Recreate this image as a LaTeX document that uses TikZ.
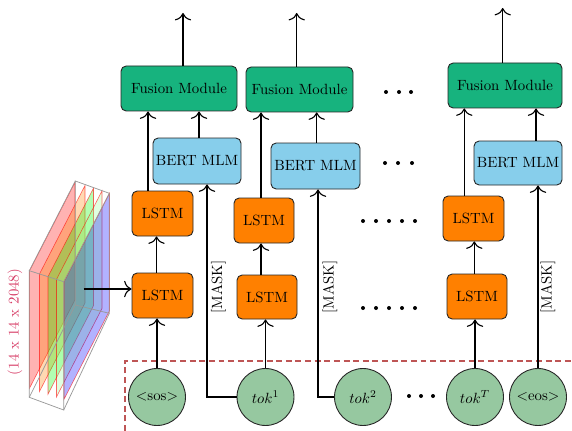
\documentclass[tikz,border=0pt]{standalone}
\usetikzlibrary{calc,arrows.meta}
\definecolor{fusc}{RGB}{23,179,126}
\definecolor{bertc}{RGB}{135,206,235}
\definecolor{lstmc}{RGB}{255,128,0}
\definecolor{tokc}{RGB}{150,200,160}
\definecolor{dimc}{RGB}{214,58,100}
\definecolor{dashc}{RGB}{190,85,85}
\begin{document}
\begin{tikzpicture}[x=0.6757pt,y=-0.6757pt,
  blk/.style={draw=black!85, line width=0.6pt, rounded corners=3.5pt, inner sep=0pt},
  fus/.style={blk, fill=fusc},
  bert/.style={blk, fill=bertc},
  lstm/.style={blk, fill=lstmc},
  tok/.style={circle, draw=black!85, line width=0.6pt, fill=tokc, minimum size=38.5pt, inner sep=0pt},
  sz/.style 2 args={minimum width=#1*0.6757pt, minimum height=#2*0.6757pt},
  conn/.style={-{Computer Modern Rightarrow[length=5pt,width=11pt]}, line width=0.75pt},
  masklbl/.style={rotate=90, inner sep=0pt},
  slice/.style={draw=red, draw opacity=0.6, line width=0.4pt, fill opacity=0.3},
  fmedge/.style={draw=gray!80, line width=0.5pt},
  dotm/.style={fill=black}
]
\useasboundingbox (0,0) rectangle (572,431);

% ---- feature map ----
\foreach \xi/\c in {29.5/red, 39.5/orange, 48/green, 56.5/green!40, 64/blue}{
  \pgfmathsetmacro{\yt}{270.7+(\xi-29.3)*0.32}
  \filldraw[slice, fill=\c] (\xi,\yt) -- ++(45.5,-88.5) -- ++(0,117.5) -- ++(-45.5,88.5) -- cycle;
}
\draw[fmedge] (29.3,270.7) -- (63.7,281.7) -- (63.7,410) -- (29.3,397.3) -- cycle;
\draw[fmedge] (75.3,181) -- (109.3,193.3) -- (109.3,313.3) -- (75.3,305) -- cycle;
\draw[fmedge] (29.3,270.7) -- (75.3,181) (63.7,281.7) -- (109.3,193.3)
              (63.7,410) -- (109.3,313.3) (29.3,397.3) -- (75.3,305);
\node[masklbl, text=dimc] (dimlbl) at (15,322) {(14 x 14 x 2048)};

% ---- dashed region ----
\draw[dashc, line width=0.7pt, dash pattern=on 4pt off 2.5pt] (125,431) -- (125,361) -- (572,361);

% ---- blocks ----
\node[fus, sz={116}{45}] (F1) at (179,88.5) {Fusion Module};
\node[fus, sz={107}{45}] (F2) at (299.5,89.5) {Fusion Module};
\node[fus, sz={114}{45}] (F3) at (505,85.5) {Fusion Module};
\node[bert, sz={88}{46}] (B1) at (197,161) {BERT MLM};
\node[bert, sz={89}{46}] (B2) at (315.5,166) {BERT MLM};
\node[bert, sz={88}{44}] (B3) at (518,163) {BERT MLM};
\node[lstm, sz={61}{45}] (U1) at (162.5,213.5) {LSTM};
\node[lstm, sz={60}{45}] (U2) at (264,220.5) {LSTM};
\node[lstm, sz={61}{45}] (U3) at (473.5,218.5) {LSTM};
\node[lstm, sz={61}{45}] (L1) at (162.5,295.5) {LSTM};
\node[lstm, sz={60}{44}] (L2) at (267,297) {LSTM};
\node[lstm, sz={60}{45}] (L3) at (477,296.5) {LSTM};
\node[tok] (sos) at (157,397) {$<$sos$>$};
\node[tok] (t1) at (265.5,397) {$tok^1$};
\node[tok] (t2) at (363,397) {$tok^2$};
\node[tok] (tT) at (475,397) {$tok^T$};
\node[tok] (eos) at (538,397) {$<$eos$>$};

% ---- output ends ----
\coordinate (top12) at (0,13);
\coordinate (top3) at (0,8);

% ---- feature arrow ----
\coordinate (fm) at (83.7,289);
\draw[conn] (fm) -- (fm -| L1.west);

% ---- column 1 ----
\draw[conn] (sos.north) -- (sos.north |- L1.south);
\coordinate (a1) at ($(L1.north)+(-6,0)$);
\draw[conn] (a1) -- (a1 |- U1.south);
\coordinate (a2) at ($(U1.north)+(-14.5,0)$);
\draw[conn] (a2) -- (a2 |- F1.south);
\coordinate (a3) at ($(B1.north)+(2,0)$);
\draw[conn] (a3) -- (a3 |- F1.south);
\coordinate (a4) at ($(F1.north)+(4,0)$);
\draw[conn] (a4) -- (a4 |- top12);
\draw[conn] (t1.west) -| ($(B1.south)+(10,0)$);
\node[masklbl] (m1) at (218.5,287) {[MASK]};

% ---- column 2 ----
\draw[conn] (t1.north) -- (t1.north |- L2.south);
\coordinate (b1) at ($(L2.north)+(-6,0)$);
\draw[conn] (b1) -- (b1 |- U2.south);
\coordinate (b2) at ($(U2.north)+(-3,0)$);
\draw[conn] (b2) -- (b2 |- F2.south);
\coordinate (b3) at ($(B2.north)+(1.2,0)$);
\draw[conn] (b3) -- (b3 |- F2.south);
\coordinate (b4) at ($(F2.north)+(-2.8,0)$);
\draw[conn] (b4) -- (b4 |- top12);
\draw[conn] (t2.west) -| ($(B2.south)+(2.5,0)$);
\node[masklbl] (m2) at (330,287) {[MASK]};

% ---- column T ----
\draw[conn] (tT.north) -- (tT.north |- L3.south);
\coordinate (c1) at ($(L3.north)+(-2.7,0)$);
\draw[conn] (c1) -- (c1 |- U3.south);
\coordinate (c2) at ($(U3.north)+(-9.2,0)$);
\draw[conn] (c2) -- (c2 |- F3.south);
\coordinate (c3) at ($(B3.north)+(18,0)$);
\draw[conn] (c3) -- (c3 |- F3.south);
\coordinate (c4) at ($(F3.north)+(-2.3,0)$);
\draw[conn] (c4) -- (c4 |- top3);
\draw[conn] (eos.north) -- (eos.north |- B3.south);
\node[masklbl] (m3) at (548,287) {[MASK]};

% ---- ellipsis dots ----
\foreach \x in {386,399,411} \fill[dotm] (\x,92) circle[radius=2];
\foreach \x in {385,398,412} \fill[dotm] (\x,163) circle[radius=2];
\foreach \x in {363,376,389,402,415} \fill[dotm] (\x,221) circle[radius=2];
\foreach \x in {363,376,389,402,415} \fill[dotm] (\x,308) circle[radius=2];
\foreach \x in {409,421,433} \fill[dotm] (\x,396) circle[radius=2];
\end{tikzpicture}
\end{document}
